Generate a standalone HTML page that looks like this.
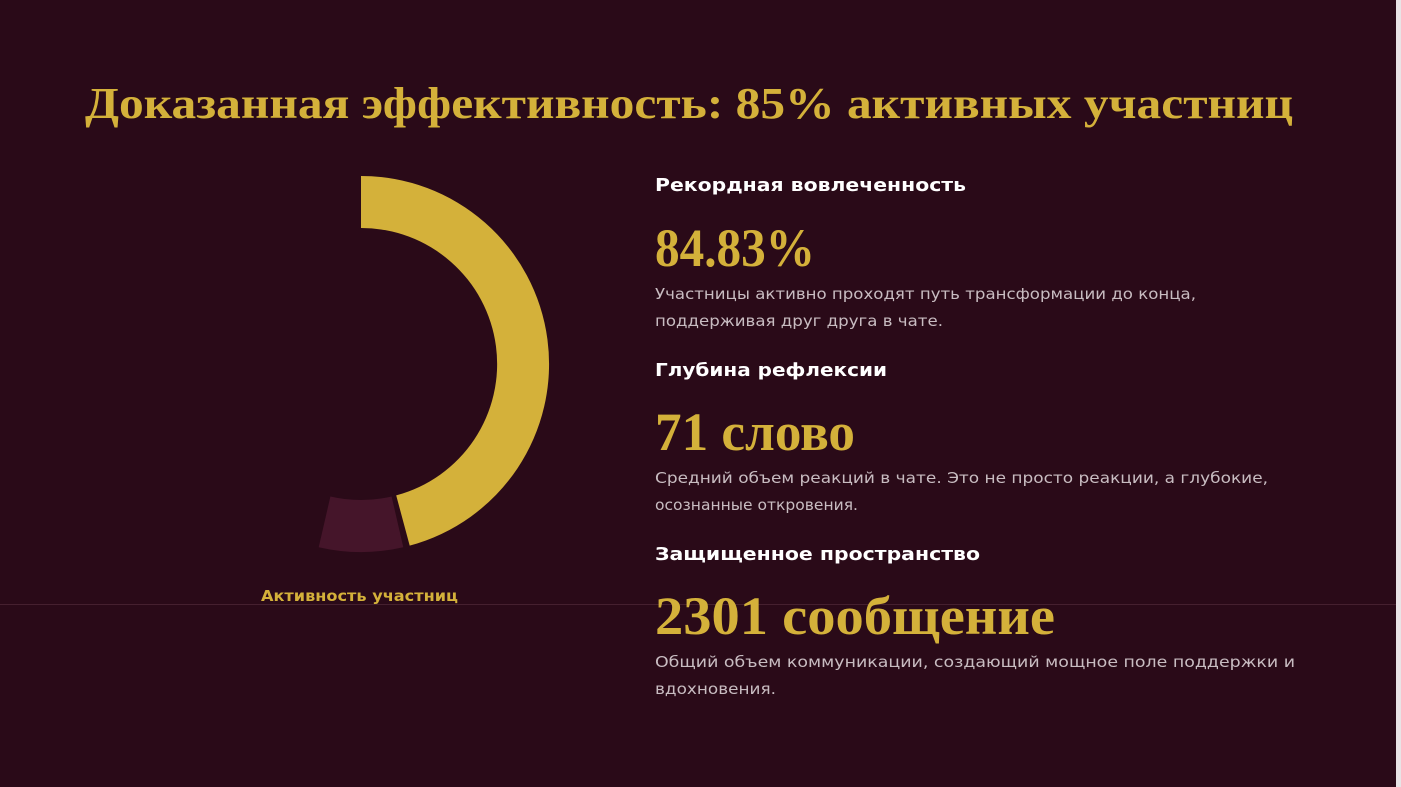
<!DOCTYPE html>
<html><head><meta charset="utf-8"><style>
html,body{margin:0;padding:0;background:#fff;}
svg{display:block}
</style></head><body>
<svg width="1401" height="787" viewBox="0 0 1401 787" xmlns="http://www.w3.org/2000/svg">
<rect x="0" y="0" width="1396" height="787" fill="#2a0a18"/>
<rect x="1396" y="0" width="5" height="787" fill="#e8e4e6"/>
<line x1="0" y1="604.5" x2="1396" y2="604.5" stroke="#45202f" stroke-width="1"/>
<text x="85" y="118" font-family="Liberation Serif, serif" font-weight="bold" font-size="44" fill="#d4b13a" textLength="1208" lengthAdjust="spacingAndGlyphs">Доказанная эффективность: 85% активных участниц</text>
<path d="M361,176 A188,188 0 0 1 409.7,545.6 L396.2,495.4 A136,136 0 0 0 361,228 Z" fill="#d4b13a"/>
<path d="M403.3,547.2 A188,188 0 0 1 318.7,547.2 L330.4,496.5 A136,136 0 0 0 391.6,496.5 Z" fill="#45152a"/>
<text x="261" y="601" font-family="DejaVu Sans, sans-serif" font-weight="bold" font-size="15" fill="#d4b13a" textLength="197" lengthAdjust="spacingAndGlyphs">Активность участниц</text>
<g font-family="DejaVu Sans, sans-serif" fill="#ffffff" font-weight="bold" font-size="18">
<text x="655" y="191" textLength="311" lengthAdjust="spacingAndGlyphs">Рекордная вовлеченность</text>
<text x="655" y="376" textLength="232" lengthAdjust="spacingAndGlyphs">Глубина рефлексии</text>
<text x="655" y="560" textLength="325" lengthAdjust="spacingAndGlyphs">Защищенное пространство</text>
</g>
<g font-family="Liberation Serif, serif" fill="#d4b13a" font-weight="bold" font-size="54">
<text x="655" y="266" textLength="160" lengthAdjust="spacingAndGlyphs">84.83%</text>
<text x="655" y="450" textLength="200" lengthAdjust="spacingAndGlyphs">71 слово</text>
<text x="655" y="634" textLength="400" lengthAdjust="spacingAndGlyphs">2301 сообщение</text>
</g>
<g font-family="DejaVu Sans, sans-serif" fill="#c8bcc1" font-size="15">
<text x="655" y="299" textLength="541" lengthAdjust="spacingAndGlyphs">Участницы активно проходят путь трансформации до конца,</text>
<text x="655" y="326" textLength="288" lengthAdjust="spacingAndGlyphs">поддерживая друг друга в чате.</text>
<text x="655" y="483" textLength="613" lengthAdjust="spacingAndGlyphs">Средний объем реакций в чате. Это не просто реакции, а глубокие,</text>
<text x="655" y="510" textLength="203" lengthAdjust="spacingAndGlyphs">осознанные откровения.</text>
<text x="655" y="667" textLength="640" lengthAdjust="spacingAndGlyphs">Общий объем коммуникации, создающий мощное поле поддержки и</text>
<text x="655" y="694" textLength="121" lengthAdjust="spacingAndGlyphs">вдохновения.</text>
</g>
</svg>
</body></html>
